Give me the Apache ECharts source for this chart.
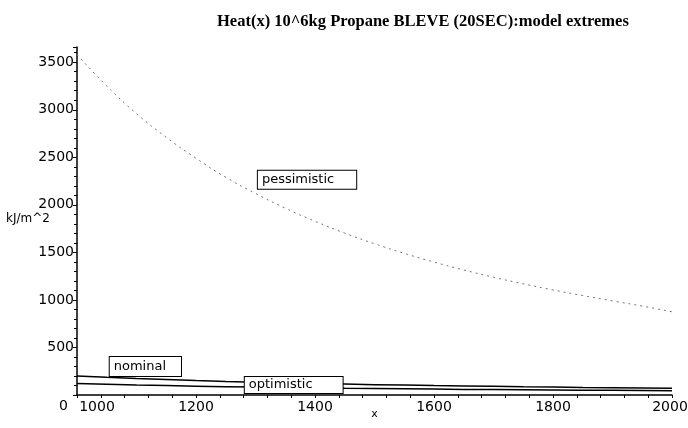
<!DOCTYPE html>
<html><head><meta charset="utf-8">
<script src="https://cdn.jsdelivr.net/npm/echarts@6/dist/echarts.min.js"></script>
<style>html,body{margin:0;padding:0;background:#fff}#c{width:688px;height:428px}</style>
</head><body><div id="c"></div>
<script>
var xValues = [1000,1050,1100,1150,1200,1250,1300,1350,1400,1450,1500,1550,1600,1650,1700,1750,1800,1850,1900,1950,2000];
var pessimistic = [3580,3250,2960,2710,2490,2290,2120,1965,1827,1703,1591,1490,1398,1315,1239,1169,1105,1046,990,935,875];
var nominal = [200,186,173,162,152,143,135,128,121,115,109,104,99,95,91,87,84,80,77,74,71];
var optimistic = [120,112,105,99,93,88,83,79,75,71,68,65,62,59,57,55,53,51,49,47,45];
var yTicks = [0,500,1000,1500,2000,2500,3000,3500];
var xTicks = [1000,1200,1400,1600,1800,2000];

var FONT = 'DejaVu Sans, Liberation Sans, Arial';
function pairs(ys){ return xValues.map(function(x,i){ return [x, ys[i]]; }); }
var boxLabel = {show:true, position:'right', distance:0, color:'#000', fontFamily:FONT, fontSize:13,
  backgroundColor:'#fff', borderColor:'#000', borderWidth:1, padding:[3,22,2,4]};
function tag(name, x, y, pad){
  var l = Object.assign({}, boxLabel, {formatter:name});
  if (pad) l.padding = pad;
  return {symbol:'rect', symbolSize:0, silent:true, animation:false, data:[{coord:[x,y], label:l}]};
}

var chart = echarts.init(document.getElementById('c'));
chart.setOption({
  animation:false,
  backgroundColor:'#fff',
  title:{text:'Heat(x) 10^6kg Propane BLEVE (20SEC):model extremes', left:212, top:8,
    textStyle:{fontFamily:'Liberation Serif, Times New Roman', fontWeight:'bold', fontSize:16.5, color:'#000'}},
  grid:{left:77, right:16, top:47, bottom:33, containLabel:false, outerBoundsMode:'none'},
  xAxis:{type:'value', min:1000, max:2000, interval:200, name:'x', nameLocation:'middle', nameGap:14,
    nameMoveOverlap:false,
    nameTextStyle:{fontFamily:FONT, fontSize:11, color:'#000'},
    axisLine:{lineStyle:{color:'#000', width:1.5}},
    axisTick:{show:true, length:3, lineStyle:{color:'#000'}},
    minorTick:{show:true, splitNumber:5, length:3, lineStyle:{color:'#000'}},
    splitLine:{show:false},
    axisLabel:{color:'#000', fontFamily:FONT, fontSize:14, margin:5,
      formatter:function(v){ return xTicks.indexOf(v) >= 0 ? (v===1000 ? '{a|1000}' : (v===2000 ? '{b|2000}' : String(v))) : ''; },
      rich:{a:{padding:[0,0,0,40], fontSize:14, fontFamily:FONT, color:'#000'},
            b:{padding:[0,4,0,0], fontSize:14, fontFamily:FONT, color:'#000'}}}
  },
  yAxis:{type:'value', min:0, max:3660, interval:500, name:'{n|kJ/m^2}', nameLocation:'middle', nameRotate:0, nameGap:27,
    nameMoveOverlap:false,
    nameTextStyle:{fontFamily:FONT, fontSize:12, color:'#000', verticalAlign:'middle',
      rich:{n:{fontFamily:FONT, fontSize:12, color:'#000', padding:[0,0,4,0]}}},
    axisLine:{show:true, lineStyle:{color:'#000', width:1.5}},
    axisTick:{show:true, length:4, lineStyle:{color:'#000'}},
    minorTick:{show:true, splitNumber:5, length:3, lineStyle:{color:'#000'}},
    splitLine:{show:false},
    axisLabel:{color:'#000', fontFamily:FONT, fontSize:14, margin:3,
      formatter:function(v){ return yTicks.indexOf(v) >= 0 ? (v===0 ? '{z|0}' : String(v)) : ''; },
      rich:{z:{padding:[22,6,0,0], fontSize:14, fontFamily:FONT, color:'#000'}}}
  },
  series:[
    {name:'pessimistic', type:'line', data:pairs(pessimistic), smooth:true, showSymbol:false,
      lineStyle:{color:'#777', width:1, type:[2,4]}, markPoint:tag('pessimistic', 1304, 2265, [3,22,2,4])},
    {name:'nominal', type:'line', data:pairs(nominal), showSymbol:false,
      lineStyle:{color:'#000', width:1.5}, markPoint:tag('nominal', 1055, 300, [3,15,3,4])},
    {name:'optimistic', type:'line', data:pairs(optimistic), showSymbol:false,
      lineStyle:{color:'#000', width:1.5}, markPoint:tag('optimistic', 1282, 105, [2,30,1,4])}
  ]
});
</script></body></html>
